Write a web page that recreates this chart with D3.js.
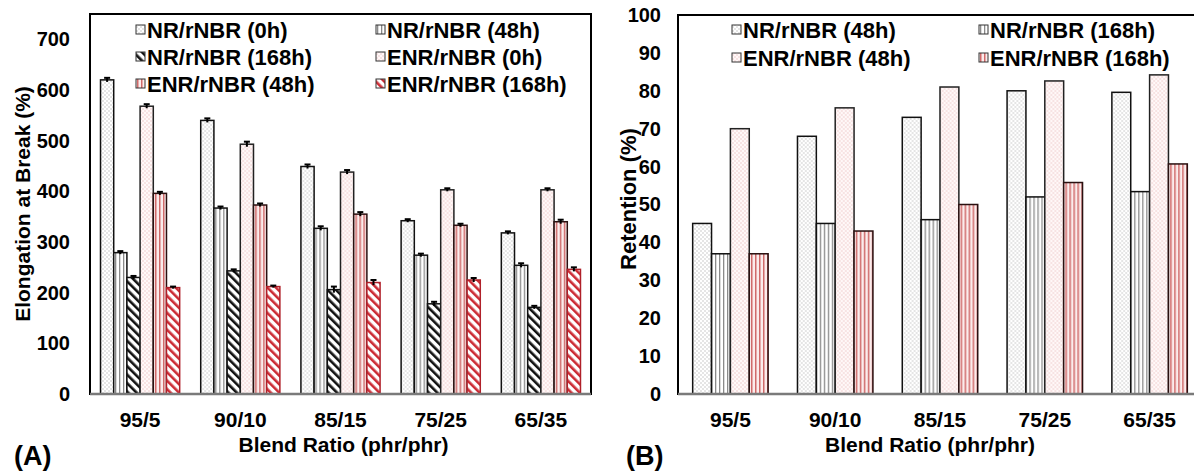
<!DOCTYPE html>
<html>
<head>
<meta charset="utf-8">
<script src="https://cdn.jsdelivr.net/npm/d3@7"></script>
<style>
  body { margin: 0; background: #fff; }
  text { font-family: "Liberation Sans", Arial, sans-serif; font-weight: bold; fill: #000; }
</style>
</head>
<body>
<svg id="chart" width="1194" height="472"></svg>
<script>
// categories
const blends = ["95/5", "90/10", "85/15", "75/25", "65/35"];

// panel A: elongation at break (%)
const seriesA = ["NR/rNBR (0h)", "NR/rNBR (48h)", "NR/rNBR (168h)", "ENR/rNBR (0h)", "ENR/rNBR (48h)", "ENR/rNBR (168h)"];
const nr0 = [620, 540, 449, 342, 318];
const nr48 = [279, 367, 327, 274, 254];
const nr168 = [230, 243, 206, 178, 171];
const enr0 = [568, 493, 438, 403, 403];
const enr48 = [396, 373, 355, 333, 340];
const enr168 = [210, 212, 220, 225, 246];
const errNr0 = [4, 4, 4, 3, 3];
const errNr48 = [3, 3, 4, 3, 4];
const errNr168 = [3, 3, 6, 4, 3];
const errEnr0 = [4, 5, 4, 3, 3];
const errEnr48 = [3, 3, 4, 3, 4];
const errEnr168 = [2, 2, 5, 4, 4];
const ticksA = [0, 100, 200, 300, 400, 500, 600, 700];

// panel B: retention (%)
const seriesB = ["NR/rNBR (48h)", "NR/rNBR (168h)", "ENR/rNBR (48h)", "ENR/rNBR (168h)"];
const retNr48 = [45, 68, 73, 80, 79.6];
const retNr168 = [37, 45, 46, 52, 53.4];
const retEnr48 = [70, 75.5, 81, 82.6, 84.2];
const retEnr168 = [37, 43, 50, 55.8, 60.7];
const ticksB = [0, 10, 20, 30, 40, 50, 60, 70, 80, 90, 100];

const svg = d3.select("#chart");
const defs = svg.append("defs");

function dotPattern(id, bg, dot) {
  const p = defs.append("pattern").attr("id", id)
    .attr("patternUnits", "userSpaceOnUse").attr("width", 4).attr("height", 4);
  p.append("rect").attr("width", 4).attr("height", 4).attr("fill", bg);
  p.append("rect").attr("x", 0.5).attr("y", 0.5).attr("width", 1).attr("height", 1).attr("fill", dot);
  p.append("rect").attr("x", 2.5).attr("y", 2.5).attr("width", 1).attr("height", 1).attr("fill", dot);
}
function stripePattern(id, bg, line, w) {
  const p = defs.append("pattern").attr("id", id)
    .attr("patternUnits", "userSpaceOnUse").attr("width", 4).attr("height", 4);
  p.append("rect").attr("width", 4).attr("height", 4).attr("fill", bg);
  p.append("rect").attr("x", 1).attr("width", w).attr("height", 4).attr("fill", line);
}
function hatchPattern(id, line) {
  const p = defs.append("pattern").attr("id", id)
    .attr("patternUnits", "userSpaceOnUse").attr("width", 6).attr("height", 6)
    .attr("patternTransform", "rotate(-45)");
  p.append("rect").attr("width", 6).attr("height", 6).attr("fill", "#fff");
  p.append("rect").attr("width", 2.6).attr("height", 6).attr("fill", line);
}
dotPattern("dotGray", "#fff", "#9a9a9a");
dotPattern("dotPink", "#fff8f8", "#e2a4a4");
stripePattern("stripeGray", "#fff", "#8a8a8a", 1.3);
stripePattern("stripeRed", "#fbecec", "#d06a6a", 1.5);
hatchPattern("hatchBlack", "#111");
hatchPattern("hatchRed", "#cc2b34");

const fillsA = ["dotGray", "stripeGray", "hatchBlack", "dotPink", "stripeRed", "hatchRed"];
const strokesA = ["#111", "#111", "#111", "#222", "#2a1010", "#b02029"];
const fillsB = ["dotGray", "stripeGray", "dotPink", "stripeRed"];
const strokesB = ["#111", "#111", "#222", "#2a1010"];

function drawPanel(cfg) {
  const g = svg.append("g");
  const x0 = d3.scaleBand().domain(blends).range([cfg.left, cfg.right]);
  const bw = x0.bandwidth();
  const x1 = d3.scaleBand().domain(cfg.series).range([bw * cfg.gap / 2, bw * (1 - cfg.gap / 2)]);
  const y = d3.scaleLinear().domain(cfg.domain).range([cfg.bottom, cfg.top]);

  const rows = blends.map((b, i) => ({
    blend: b,
    bars: cfg.series.map((s, j) => ({ key: s, j, v: cfg.values[j][i], e: cfg.errors ? cfg.errors[j][i] : 0 }))
  }));

  const groups = g.selectAll("g.grp").data(rows).join("g")
    .attr("transform", d => `translate(${x0(d.blend)},0)`);

  groups.selectAll("rect").data(d => d.bars).join("rect")
    .attr("x", d => x1(d.key))
    .attr("y", d => y(d.v))
    .attr("width", x1.bandwidth())
    .attr("height", d => y(0) - y(d.v))
    .attr("fill", d => `url(#${cfg.fills[d.j]})`)
    .attr("stroke", d => cfg.strokes[d.j])
    .attr("stroke-width", 1.5);

  if (cfg.errors) {
    const eb = groups.selectAll("g.err").data(d => d.bars).join("g")
      .attr("stroke", "#000").attr("stroke-width", 2);
    eb.append("line")
      .attr("x1", d => x1(d.key) + x1.bandwidth() / 2)
      .attr("x2", d => x1(d.key) + x1.bandwidth() / 2)
      .attr("y1", d => y(d.v + d.e)).attr("y2", d => y(d.v - d.e));
    eb.append("line")
      .attr("x1", d => x1(d.key) + x1.bandwidth() / 2 - 3)
      .attr("x2", d => x1(d.key) + x1.bandwidth() / 2 + 3)
      .attr("y1", d => y(d.v + d.e)).attr("y2", d => y(d.v + d.e));
  }

  // frame
  g.append("rect")
    .attr("x", cfg.left).attr("y", cfg.top)
    .attr("width", cfg.right - cfg.left).attr("height", cfg.bottom - cfg.top)
    .attr("fill", "none").attr("stroke", "#000").attr("stroke-width", 2);
  g.append("line")
    .attr("x1", cfg.left).attr("x2", cfg.right)
    .attr("y1", cfg.bottom).attr("y2", cfg.bottom)
    .attr("stroke", "#7a7a7a").attr("stroke-width", 2.5);

  const yAxis = g.append("g")
    .attr("transform", `translate(${cfg.left},0)`)
    .call(d3.axisLeft(y).tickValues(cfg.ticks).tickSize(0).tickPadding(cfg.tickPad));
  yAxis.select(".domain").remove();
  yAxis.selectAll("text").style("font-size", "20px").style("font-family", null);

  const xAxis = g.append("g")
    .attr("transform", `translate(0,${cfg.bottom})`)
    .call(d3.axisBottom(x0).tickSize(0).tickPadding(18));
  xAxis.select(".domain").remove();
  xAxis.selectAll("text").style("font-size", "21px").style("font-family", null);

  g.append("text")
    .attr("x", (cfg.left + Math.min(cfg.right, 1194)) / 2 + cfg.xTitleShift)
    .attr("y", 452)
    .attr("text-anchor", "middle")
    .style("font-size", "21px")
    .text("Blend Ratio (phr/phr)");

  g.append("text")
    .attr("transform", `translate(${cfg.yTitleX},${cfg.yTitleY}) rotate(-90)`)
    .attr("text-anchor", "middle")
    .style("font-size", cfg.yTitleSize)
    .text(cfg.yTitle);

  g.append("text")
    .attr("x", cfg.tagX).attr("y", 465)
    .style("font-size", "27px")
    .text(cfg.tag);

  // legend, two columns, row-major
  const lg = g.append("g");
  cfg.series.forEach((s, i) => {
    const col = i % 2, row = Math.floor(i / 2);
    const item = lg.append("g")
      .attr("transform", `translate(${cfg.legX[col]},${cfg.legY[row]})`);
    item.append("rect")
      .attr("x", 0).attr("y", -13).attr("width", 9).attr("height", 9)
      .attr("fill", `url(#${cfg.fills[i]})`)
      .attr("stroke", "#333").attr("stroke-width", 1);
    item.append("text")
      .attr("x", 11).attr("y", 0)
      .style("font-size", "22px")
      .text(s);
  });
}

drawPanel({
  left: 90, right: 591, top: 14, bottom: 394,
  domain: [0, 750], ticks: ticksA, tickPad: 20, gap: 0.21,
  series: seriesA,
  values: [nr0, nr48, nr168, enr0, enr48, enr168],
  errors: [errNr0, errNr48, errNr168, errEnr0, errEnr48, errEnr168],
  fills: fillsA, strokes: strokesA,
  yTitle: "Elongation at Break (%)", yTitleX: 30, yTitleY: 204, yTitleSize: "21px",
  xTitleShift: 3, tag: "(A)", tagX: 14,
  legX: [136, 376], legY: [38, 65, 92]
});

drawPanel({
  left: 678, right: 1202, top: 15, bottom: 394,
  domain: [0, 100], ticks: ticksB, tickPad: 17, gap: 0.28,
  series: seriesB,
  values: [retNr48, retNr168, retEnr48, retEnr168],
  errors: null,
  fills: fillsB, strokes: strokesB,
  yTitle: "Retention (%)", yTitleX: 636, yTitleY: 199, yTitleSize: "22px",
  xTitleShift: -6, tag: "(B)", tagX: 626,
  legX: [732, 979], legY: [38, 66]
});
</script>
</body>
</html>
